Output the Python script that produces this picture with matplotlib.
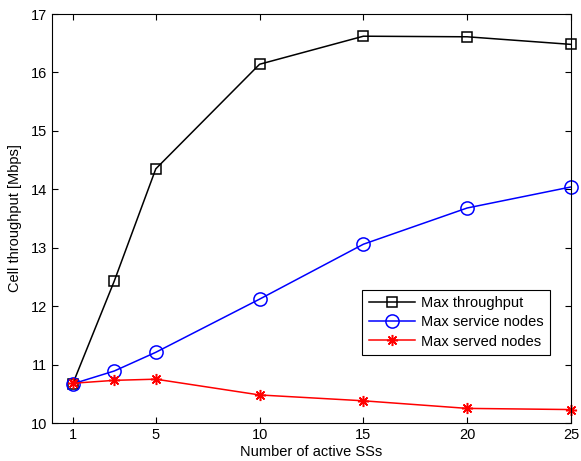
import matplotlib
matplotlib.use("Agg")
import matplotlib.pyplot as plt

plt.rcParams['font.family'] = ['Liberation Sans', 'DejaVu Sans']

ss = [1, 3, 5, 10, 15, 20, 25]
max_throughput = [10.67, 12.43, 14.35, 16.14, 16.62, 16.61, 16.48]
max_service = [10.67, 10.89, 11.21, 12.12, 13.06, 13.68, 14.04]
max_served = [10.68, 10.73, 10.75, 10.48, 10.38, 10.25, 10.23]
xticks = [1, 5, 10, 15, 20, 25]

fig = plt.figure(figsize=(5.81, 4.61), dpi=100)
ax = fig.add_axes([52 / 581, 38 / 461, 519 / 581, 409 / 461])

ax.plot(ss, max_throughput, color='black', marker='s', markersize=7.5,
        markerfacecolor='none', markeredgewidth=1.1, linewidth=1.1,
        label='Max throughput', clip_on=False)
ax.plot(ss, max_service, color='blue', marker='o', markersize=9.5,
        markerfacecolor='none', markeredgewidth=1.1, linewidth=1.1,
        label='Max service nodes', clip_on=False)
ax.plot(ss, max_served, color='red', marker=(8, 2, 0), markersize=8,
        markeredgewidth=1.1, linewidth=1.1,
        label='Max served nodes', clip_on=False)

ax.set_xlim(0, 25)
ax.set_ylim(10, 17)
ax.set_xticks(xticks)
ax.set_yticks(range(10, 18))
ax.tick_params(direction='in', top=True, right=True, labelsize=10.5, length=4)
ax.set_xlabel('Number of active SSs', fontsize=10.5, labelpad=2.5)
ax.set_ylabel('Cell throughput [Mbps]', fontsize=10.5, labelpad=6)

leg = ax.legend(loc='lower right', bbox_to_anchor=(0.96, 0.166), fontsize=10.5,
                fancybox=False, edgecolor='black', framealpha=1,
                borderpad=0.45, labelspacing=0.35, handlelength=3.2,
                handletextpad=0.4, borderaxespad=0)
leg.get_frame().set_linewidth(0.8)

fig.savefig('out.png', dpi=100)
